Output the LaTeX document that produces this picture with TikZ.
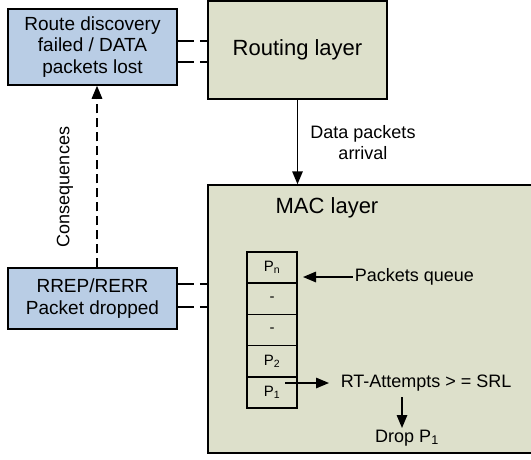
\documentclass[tikz,border=0pt]{standalone}
\usepackage{fontspec}
\setmainfont{Liberation Sans}
\usetikzlibrary{arrows.meta,positioning}
\definecolor{boxblue}{RGB}{185,205,229}
\definecolor{layergreen}{RGB}{221,224,203}

\begin{document}
\begin{tikzpicture}[x=1pt, y=-1pt, >={Triangle[length=13pt,width=10.5pt]}, line width=1.5pt]

		\tikzstyle{effect}=[draw, fill=boxblue, minimum width=169pt, align=center,
		font=\fontsize{19}{21.5}\selectfont, inner sep=0pt]
		\tikzstyle{layer}=[draw, fill=layergreen, inner sep=0pt]
		\tikzstyle{cell}=[draw, minimum width=50pt, minimum height=31.2pt, inner sep=0pt,
		outer sep=0pt, font=\fontsize{15}{17}\selectfont]
		\tikzstyle{label}=[align=center, font=\fontsize{18}{21}\selectfont, inner sep=1pt]
		\tikzstyle{link}=[dash pattern=on 16pt off 6pt]

		\useasboundingbox (0,0) rectangle (531,459);
		\clip (0,0) rectangle (531,459);

		% Layers
		\node[layer, minimum width=179pt, minimum height=98pt,
		font=\fontsize{22}{26}\selectfont] (route) at (297.5,50) {Routing layer};
		\node[layer, minimum width=340pt, minimum height=268pt] (mac) at (378,319) {};
		\node[font=\fontsize{22}{26}\selectfont] (maclbl) at (327,208) {MAC layer};

		% Consequence boxes
		\node[effect, minimum height=76pt] (lost) at (92.5,47)
		{Route discovery\\failed / DATA\\packets lost};
		\node[effect, minimum height=61pt] (dropped) at (92.5,298.5)
		{RREP/RERR\\Packet dropped};

		% Packets queue
		\node[cell] (pn) at (272,267.6) {P\textsubscript{n}};
		\node[cell, below=0pt of pn] (c2) {-};
		\node[cell, below=0pt of c2] (c3) {-};
		\node[cell, below=0pt of c3] (p2) {P\textsubscript{2}};
		\node[cell, below=0pt of p2] (p1) {P\textsubscript{1}};

		% Labels
		\node[label] (arrival) at (363,143) {Data packets\\arrival};
		\node[label, anchor=west] (queue) at (353,277) {Packets queue};
		\node[label, anchor=west] (rt) at (339,383) {RT-Attempts > = SRL};
		\node[label, anchor=north] (dropp1) at (407,428) {Drop P\textsubscript{1}};
		\node[label, rotate=90] (conseq) at (65,187) {Consequences};
		\coordinate (rtfoot) at (402,397);

		% Arrows
		\draw[->] (route.south) -- (route.south |- mac.north);
		\draw[->] (queue.west) -- ([xshift=6pt]pn.east |- queue.west);
		\draw[->, shorten >=10pt] ([xshift=-12pt]p1.east |- rt.west) -- (rt.west);
		\draw[->] (rtfoot) -- (rtfoot |- dropp1.north);
		\draw[->, dash pattern=on 9pt off 5pt] ([xshift=4.5pt]dropped.north)
		-- ([xshift=4.5pt]dropped.north |- lost.south);

		% Dashed links to the layers
		\draw[link] ([yshift=6pt]lost.east) -- ([yshift=6pt]lost.east -| route.west);
		\draw[link] ([yshift=-15pt]lost.east) -- ([yshift=-15pt]lost.east -| route.west);
		\draw[link] ([yshift=14.5pt]dropped.east) -- ([yshift=14.5pt]dropped.east -| mac.west);
		\draw[link] ([yshift=-8.5pt]dropped.east) -- ([yshift=-8.5pt]dropped.east -| mac.west);

\end{tikzpicture}
\end{document}
